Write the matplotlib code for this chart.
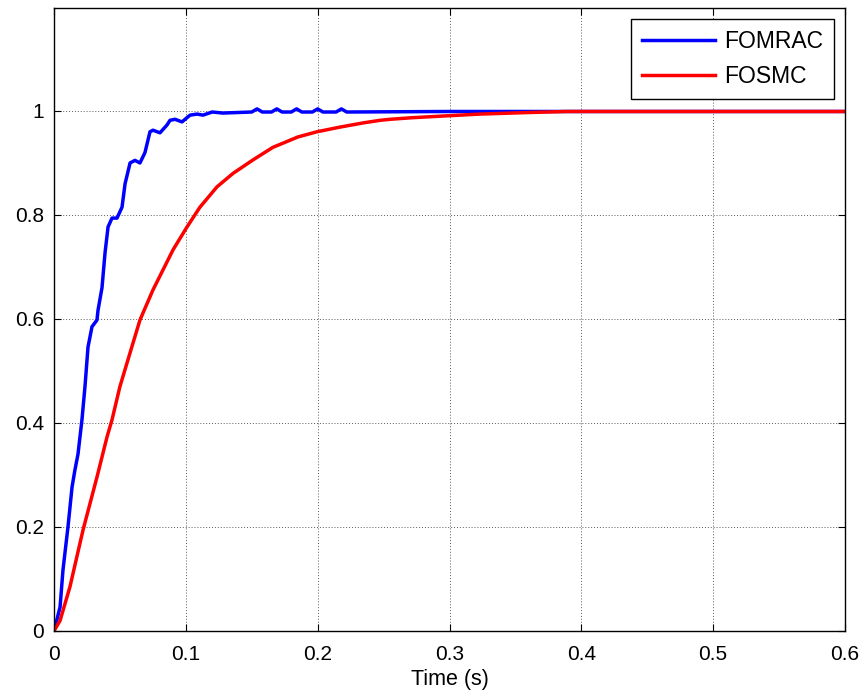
import matplotlib.pyplot as plt

# FOMRAC response (blue)
t_fomrac = [0, 0.0046, 0.0068, 0.0083, 0.0106, 0.0137, 0.0159, 0.0182, 0.0212,
            0.0235, 0.0258, 0.0288, 0.0326, 0.0334, 0.0364, 0.0387, 0.041, 0.044,
            0.0478, 0.0516, 0.0539, 0.0577, 0.0614, 0.0652, 0.069, 0.0728, 0.0751,
            0.0804, 0.0857, 0.088, 0.0918, 0.0971, 0.1032, 0.1085, 0.113, 0.12,
            0.128, 0.15, 0.154, 0.158, 0.165, 0.169, 0.173, 0.18, 0.184, 0.188,
            0.196, 0.2, 0.204, 0.214, 0.218, 0.222, 0.3, 0.6]
y_fomrac = [0, 0.046, 0.117, 0.15, 0.2, 0.277, 0.31, 0.34, 0.406,
            0.47, 0.546, 0.585, 0.598, 0.617, 0.66, 0.727, 0.777, 0.794,
            0.794, 0.815, 0.86, 0.90, 0.905, 0.90, 0.92, 0.96, 0.963,
            0.958, 0.973, 0.982, 0.984, 0.979, 0.992, 0.994, 0.992, 0.998,
            0.996, 0.998, 1.004, 0.998, 0.998, 1.004, 0.998, 0.998, 1.004, 0.998,
            0.998, 1.004, 0.998, 0.998, 1.004, 0.998, 0.999, 0.999]

# FOSMC response (red)
t_fosmc = [0, 0.0046, 0.0121, 0.022, 0.0326, 0.0402, 0.044, 0.05, 0.0577,
           0.0652, 0.0751, 0.0903, 0.1009, 0.1107, 0.1236, 0.1358, 0.151, 0.166,
           0.185, 0.1995, 0.217, 0.2344, 0.2473, 0.255, 0.2716, 0.293, 0.323,
           0.36, 0.389, 0.6]
y_fosmc = [0, 0.02, 0.085, 0.194, 0.296, 0.373, 0.406, 0.47, 0.535,
           0.598, 0.656, 0.733, 0.777, 0.815, 0.854, 0.88, 0.906, 0.93,
           0.95, 0.96, 0.969, 0.977, 0.982, 0.984, 0.987, 0.99, 0.994,
           0.997, 0.999, 0.999]

x_ticks = [0, 0.1, 0.2, 0.3, 0.4, 0.5, 0.6]
x_labels = ['0', '0.1', '0.2', '0.3', '0.4', '0.5', '0.6']
y_ticks = [0, 0.2, 0.4, 0.6, 0.8, 1.0]
y_labels = ['0', '0.2', '0.4', '0.6', '0.8', '1']

plt.rcParams['font.family'] = ['Liberation Sans', 'DejaVu Sans']

fig = plt.figure(figsize=(8.64, 7.0), dpi=100)
ax = fig.add_axes([54 / 864, 69 / 700, 791 / 864, 623 / 700])

ax.plot(t_fomrac, y_fomrac, color='#0000ff', lw=2.5, label='FOMRAC')
ax.plot(t_fosmc, y_fosmc, color='#ff0000', lw=2.5, label='FOSMC')

ax.set_xlim(0, 0.6)
ax.set_ylim(0, 1.198)
ax.set_xticks(x_ticks)
ax.set_xticklabels(x_labels)
ax.set_yticks(y_ticks)
ax.set_yticklabels(y_labels)
ax.tick_params(axis='both', direction='in', top=True, right=True,
               length=5, width=0.8, labelsize=15)
ax.tick_params(axis='x', pad=10)
ax.tick_params(axis='y', pad=7)
ax.grid(True, color='0.35', linestyle=(0, (1, 2)), lw=0.7)
for s in ax.spines.values():
    s.set_linewidth(1.0)
    s.set_color('black')

ax.set_xlabel('Time (s)', fontsize=15.5, labelpad=4)

leg = ax.legend(loc='upper right', fontsize=16.5, frameon=True, fancybox=False,
                edgecolor='black', framealpha=1, handlelength=3.2,
                handletextpad=0.4, borderaxespad=0.5, labelspacing=0.55,
                borderpad=0.45)
leg.get_frame().set_linewidth(1.0)

fig.savefig('out.png', dpi=100)
